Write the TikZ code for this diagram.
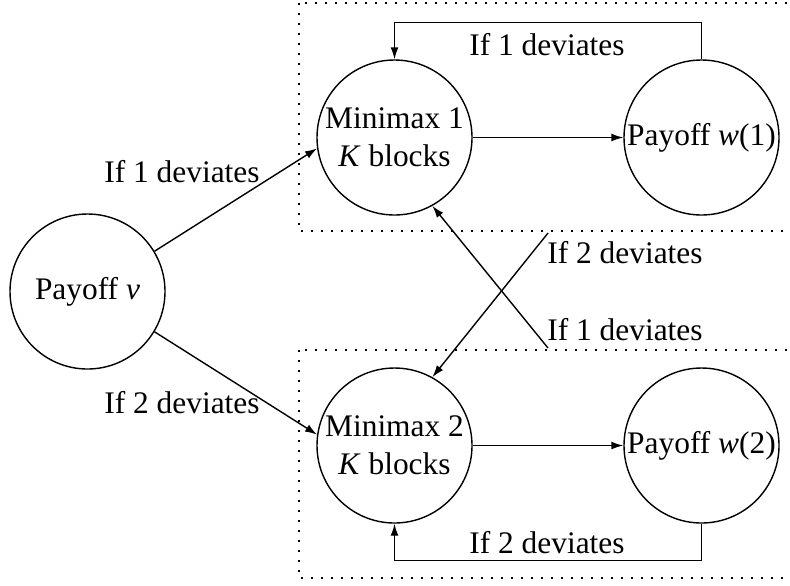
\documentclass[tikz,border=0pt]{standalone}
\usepackage{fontspec}
\setmainfont{Liberation Serif}
\usetikzlibrary{arrows.meta}
\begin{document}
\begin{tikzpicture}[x=0.5pt,y=-0.5pt,
  state/.style={circle,draw,line width=0.7pt,minimum size=77.5pt,inner sep=0pt,align=center,font=\fontsize{15.7}{19}\selectfont},
  lab/.style={inner sep=0pt,font=\fontsize{15.7}{19}\selectfont},
  arr/.style={line width=0.7pt,-{Latex[length=6pt,width=4pt]}},
  box/.style={line width=0.7pt,dash pattern=on 0.8pt off 4.2pt}]
\useasboundingbox (0,0) rectangle (790,585);
\clip (0,0) rectangle (790,585);
\draw[box] (299,3) rectangle (800,231);
\draw[box] (299,350) rectangle (800,578);
\node[state] (v) at (87.5,291.5) {Payoff \textit{v}};
\node[state] (m1) at (394.5,137.5) {Minimax 1\\\textit{K} blocks};
\node[state] (w1) at (701.5,137.5) {Payoff \textit{w}(1)};
\node[state] (m2) at (394.5,445.5) {Minimax 2\\\textit{K} blocks};
\node[state] (w2) at (701.5,445.5) {Payoff \textit{w}(2)};
\coordinate (c1) at (548,233);
\coordinate (c2) at (548,348);
\draw[arr] (m1) -- (w1);
\draw[arr] (m2) -- (w2);
\draw[arr] (w1.north) -- ++(0,-37) -| (m1.north);
\draw[arr] (w2.south) -- ++(0,37) -| (m2.south);
\draw[arr] (v.31) -- (m1.188);
\draw[arr] (v.-31) -- (m2.172);
\draw[arr] (c1) -- (m2.61);
\draw[arr] (c2) -- (m1.-61);
\node[lab] (l1) at (547,45) {If 1 deviates};
\node[lab] (l2) at (547,543) {If 2 deviates};
\node[lab] (l3) at (182,172) {If 1 deviates};
\node[lab] (l4) at (182,403) {If 2 deviates};
\node[lab] (l5) at (625,253) {If 2 deviates};
\node[lab] (l6) at (625,330) {If 1 deviates};
\end{tikzpicture}
\end{document}
